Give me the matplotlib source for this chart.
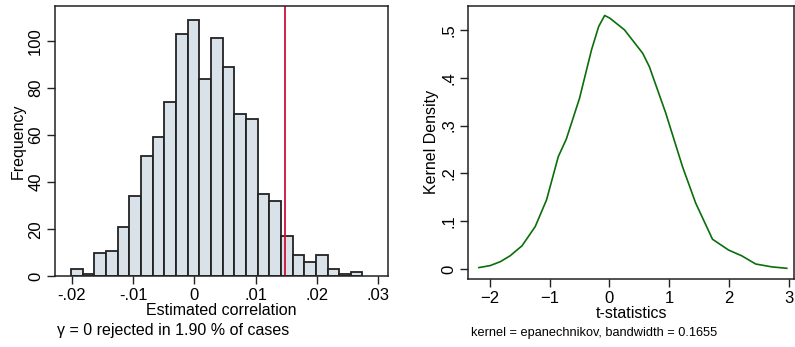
import numpy as np
from matplotlib import pyplot as plt

plt.rcParams['font.family'] = ['Liberation Sans', 'DejaVu Sans']

## Histogram of estimated correlations (25 bins)
bin_start = -0.0201
bin_width = 0.0019
counts = [3, 1, 10, 11, 21, 34, 51, 59, 74, 103, 109, 84, 101, 89, 69, 67,
          35, 32, 17, 9, 6, 9, 3, 1, 2]
crit_value = 0.0148
hist_xticks = [-0.02, -0.01, 0, 0.01, 0.02, 0.03]
hist_xlabels = ['-.02', '-.01', '0', '.01', '.02', '.03']
hist_yticks = [0, 20, 40, 60, 80, 100]

## Kernel density of t-statistics
t_vals = [-2.18, -1.99, -1.82, -1.66, -1.46, -1.24, -1.05, -0.855, -0.72, -0.50,
          -0.30, -0.18, -0.08, 0.01, 0.25, 0.555, 0.666, 0.94, 1.22, 1.44,
          1.72, 1.99, 2.21, 2.44, 2.71, 2.96]
dens = [0.0035, 0.0077, 0.016, 0.028, 0.049, 0.089, 0.145, 0.235, 0.272, 0.357,
        0.458, 0.507, 0.530, 0.524, 0.500, 0.451, 0.423, 0.326, 0.214, 0.138,
        0.0627, 0.040, 0.028, 0.011, 0.005, 0.002]
kd_xticks = [-2, -1, 0, 1, 2, 3]
kd_yticks = [0, 0.1, 0.2, 0.3, 0.4, 0.5]
kd_ylabels = ['0', '.1', '.2', '.3', '.4', '.5']

fig = plt.figure(figsize=(7.95, 3.47), dpi=100)
ax1 = fig.add_axes([0.0692, 0.2032, 0.4189, 0.7804])
ax2 = fig.add_axes([0.5891, 0.1960, 0.4096, 0.7876])

# Left: histogram
edges = bin_start + bin_width * np.arange(len(counts))
ax1.bar(edges, counts, width=bin_width, align='edge', color='#d8e2e8',
        edgecolor='#222222', linewidth=1.3)
ax1.axvline(crit_value, color='#d0103a', lw=1.3)
ax1.set_xlim(-0.02273, 0.03157)
ax1.set_ylim(0, 114.9)
ax1.set_xticks(hist_xticks)
ax1.set_xticklabels(hist_xlabels)
ax1.set_yticks(hist_yticks)
ax1.set_yticklabels([str(v) for v in hist_yticks], rotation=90, va='center')
ax1.set_xlabel('Estimated correlation', fontsize=11.5, labelpad=0)
ax1.set_ylabel('Frequency', fontsize=11.5, labelpad=2)
fig.text(57 / 795, 1 - 331 / 347, '\u03b3 = 0 rejected in 1.90 % of cases',
         fontsize=11.5, va='center', ha='left')

# Right: kernel density
ax2.plot(t_vals, dens, color='#0a6e0a', lw=1.2)
ax2.set_xlim(-2.356, 3.08)
ax2.set_ylim(-0.0203, 0.5504)
ax2.set_xticks(kd_xticks)
ax2.set_yticks(kd_yticks)
ax2.set_yticklabels(kd_ylabels, rotation=90, va='center')
ax2.set_xlabel('t-statistics', fontsize=11.5, labelpad=0)
ax2.set_ylabel('Kernel Density', fontsize=11.5, labelpad=2)
fig.text(471 / 795, 1 - 333 / 347, 'kernel = epanechnikov, bandwidth = 0.1655',
         fontsize=9.2, va='center', ha='left')

for ax in (ax1, ax2):
    ax.tick_params(direction='out', length=6, width=1, labelsize=12, pad=2.5,
                   color='#222222')
    for sp in ax.spines.values():
        sp.set_linewidth(1.1)
        sp.set_color('#222222')

plt.savefig('out.png', dpi=100)
